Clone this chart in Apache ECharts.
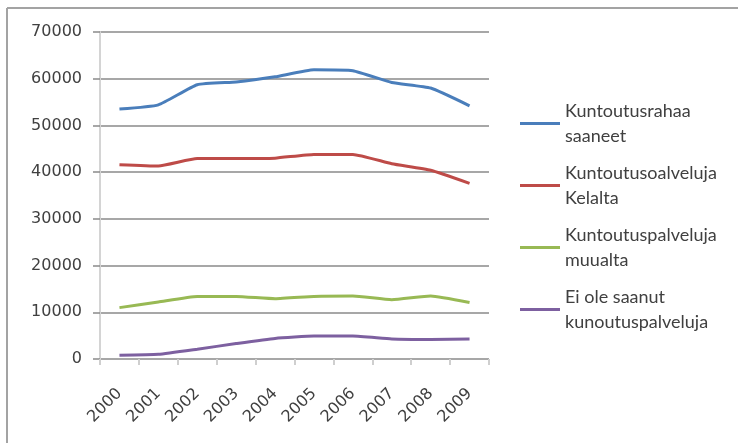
<!DOCTYPE html>
<html>
<head>
<meta charset="utf-8">
<script src="https://cdn.jsdelivr.net/npm/echarts@6/dist/echarts.min.js"></script>
<style>
  html, body { margin: 0; padding: 0; background: #ffffff; }
  #chart { width: 738px; height: 443px; }
</style>
</head>
<body>
<div id="chart"></div>
<script>
// Years on the category axis
const years = ['2000', '2001', '2002', '2003', '2004', '2005', '2006', '2007', '2008', '2009'];

// Series names and their two-line legend labels
const seriesNames = [
  'Kuntoutusrahaa saaneet',
  'Kuntoutusoalveluja Kelalta',
  'Kuntoutuspalveluja muualta',
  'Ei ole saanut kunoutuspalveluja'
];
const legendLabels = {
  'Kuntoutusrahaa saaneet': 'Kuntoutusrahaa\nsaaneet',
  'Kuntoutusoalveluja Kelalta': 'Kuntoutusoalveluja\nKelalta',
  'Kuntoutuspalveluja muualta': 'Kuntoutuspalveluja\nmuualta',
  'Ei ole saanut kunoutuspalveluja': 'Ei ole saanut\nkunoutuspalveluja'
};

// Values per year
const rahaaSaaneet   = [53500, 54400, 58700, 59300, 60400, 61900, 61700, 59200, 58000, 54200];
const kelalta        = [41600, 41300, 42900, 42900, 43000, 43800, 43800, 41800, 40400, 37600];
const muualta        = [11000, 12200, 13400, 13400, 12900, 13400, 13500, 12700, 13500, 12100];
const eiSaanut       = [800, 1000, 2100, 3300, 4400, 4900, 4900, 4300, 4200, 4300];

// Value axis ticks
const yMin = 0, yMax = 70000, yStep = 10000;

const colors = ['#4a7ebb', '#be4b48', '#98b954', '#7d60a0'];
const values = [rahaaSaaneet, kelalta, muualta, eiSaanut];

const chart = echarts.init(document.getElementById('chart'), null, { renderer: 'canvas' });

chart.setOption({
  animation: false,
  backgroundColor: '#ffffff',
  color: colors,
  textStyle: { fontFamily: 'DejaVu Sans' },
  graphic: [
    { type: 'line', shape: { x1: 7, y1: 8, x2: 738, y2: 8 },
      style: { stroke: '#a3a3a3', lineWidth: 2 } },
    { type: 'line', shape: { x1: 7, y1: 8, x2: 7, y2: 443 },
      style: { stroke: '#a3a3a3', lineWidth: 2 } }
  ],
  grid: { left: 100, right: 249, top: 32, bottom: 84, containLabel: false },
  legend: {
    orient: 'vertical',
    left: 520,
    top: 86,
    padding: 0,
    itemWidth: 40,
    itemHeight: 3,
    itemGap: -13,
    icon: 'rect',
    data: seriesNames,
    formatter: name => legendLabels[name],
    textStyle: {
      fontFamily: 'Lato',
      fontSize: 18,
      color: '#404040',
      lineHeight: 25,
      padding: [25, 0, 0, 0]
    }
  },
  xAxis: {
    type: 'category',
    data: years,
    boundaryGap: true,
    axisLine: { show: false },
    axisTick: { show: true, alignWithLabel: false, length: 6,
      lineStyle: { color: '#cfcfcf', width: 2 } },
    axisLabel: {
      rotate: 45,
      interval: 0,
      margin: 32,
      fontFamily: 'DejaVu Sans',
      fontSize: 16,
      color: '#404040'
    },
    splitLine: { show: false }
  },
  yAxis: {
    type: 'value',
    min: yMin,
    max: yMax,
    interval: yStep,
    axisLine: { show: true, lineStyle: { color: '#d4d4d4', width: 2 } },
    axisTick: { show: true, length: 7, lineStyle: { color: '#8a8a8a', width: 1.5 } },
    axisLabel: {
      margin: 18,
      fontFamily: 'DejaVu Sans',
      fontSize: 16,
      color: '#404040',
      formatter: v => String(v)
    },
    splitLine: { show: true, lineStyle: { color: '#8a8a8a', width: 1.5 } }
  },
  series: seriesNames.map((name, i) => ({
    name: name,
    type: 'line',
    data: values[i],
    smooth: 0.15,
    symbol: 'none',
    lineStyle: { width: 3, color: colors[i] },
    itemStyle: { color: colors[i] }
  }))
});
</script>
</body>
</html>
